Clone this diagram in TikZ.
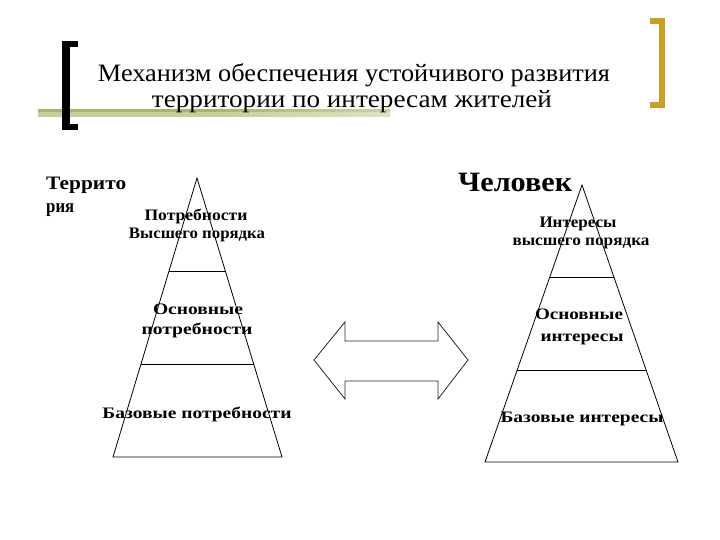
\documentclass[tikz,border=0pt]{standalone}
\usepackage{fontspec}
\setmainfont{Liberation Serif}
\usepackage{graphicx}
\usetikzlibrary{calc}
\definecolor{goldbr}{RGB}{201,160,36}
\definecolor{olivedark}{RGB}{165,182,110}
\definecolor{olivelight}{RGB}{196,208,152}
\pgfdeclarehorizontalshading{bartop}{100bp}{color(0bp)=(olivedark); color(50bp)=(olivedark); color(85bp)=(olivedark!45); color(100bp)=(white)}
\pgfdeclarehorizontalshading{barbot}{100bp}{color(0bp)=(olivelight); color(50bp)=(olivelight); color(85bp)=(olivelight!45); color(100bp)=(white)}
\newcommand\fitw[2]{\resizebox{#1}{\height}{#2}}
\tikzset{
  lbl/.style={anchor=base, inner sep=0pt, font=\fontsize{16}{19}\selectfont\bfseries},
  ttl/.style={anchor=base, inner sep=0pt, font=\fontsize{25}{28}\selectfont},
  pyr/.style={draw=black, line width=0.8pt, line join=miter},
  divline/.style={draw=black, line width=0.8pt},
  dblarrow/.style={draw=black!85, line width=0.8pt, line join=miter}
}
\begin{document}
\begin{tikzpicture}[x=1pt,y=-1pt]
\useasboundingbox (0,0) rectangle (720,540);
% header bar
\shade[shading=bartop] (38,110) rectangle (390,113);
\shade[shading=barbot] (38,113) rectangle (390,117);
% brackets
\fill[black] (62,41) rectangle (70,130);
\fill[black] (62,41) rectangle (78,47);
\fill[black] (62,124) rectangle (78,130);
\fill[goldbr] (659,18) rectangle (665,108);
\fill[goldbr] (650,18) rectangle (665,24);
\fill[goldbr] (650,102) rectangle (665,108);
% title
\node[ttl] (t1) at (354,82) {\fitw{512pt}{Механизм обеспечения устойчивого развития}};
\node[ttl] (t2) at (352,108) {\fitw{400pt}{территории по интересам жителей}};
% left pyramid
\coordinate (LA) at (197,178);
\coordinate (LL) at (113,457);
\coordinate (LR) at (282,457);
\draw[pyr] (LA) -- (LR) -- (LL) -- cycle;
\draw[divline] ($(LA)!0.333!(LL)$) -- ($(LA)!0.333!(LR)$);
\draw[divline] ($(LA)!0.667!(LL)$) -- ($(LA)!0.667!(LR)$);
% right pyramid
\coordinate (RA) at (582,185);
\coordinate (RL) at (485,462);
\coordinate (RR) at (678,462);
\draw[pyr] (RA) -- (RR) -- (RL) -- cycle;
\draw[divline] ($(RA)!0.332!(RL)$) -- ($(RA)!0.332!(RR)$);
\draw[divline] ($(RA)!0.668!(RL)$) -- ($(RA)!0.668!(RR)$);
% double arrow
\draw[dblarrow] (314,360) -- (345,322) -- (345,341) -- (438,341) -- (438,322)
  -- (468,360) -- (438,399) -- (438,381) -- (345,381) -- (345,399) -- cycle;
% side labels
\node[anchor=base west, inner sep=0pt, font=\fontsize{19}{22}\selectfont\bfseries] (terr1) at (46,190) {\fitw{80pt}{Террито}};
\node[anchor=base west, inner sep=0pt, font=\fontsize{19}{22}\selectfont\bfseries] (terr2) at (46,212) {\fitw{28pt}{рия}};
\node[anchor=base west, inner sep=0pt, font=\fontsize{28}{30}\selectfont\bfseries] (chel) at (458,192) {\fitw{114pt}{Человек}};
% left labels
\node[lbl] (lp1) at (196,221) {\fitw{103pt}{Потребности}};
\node[lbl] (lp2) at (197,238) {\fitw{136pt}{Высшего порядка}};
\node[lbl] (lo1) at (198,314) {\fitw{90pt}{Основные}};
\node[lbl] (lo2) at (197,334) {\fitw{111pt}{потребности}};
\node[lbl] (lb) at (197,418) {\fitw{189pt}{Базовые потребности}};
% right labels
\node[lbl] (ri1) at (578,227) {\fitw{77pt}{Интересы}};
\node[lbl] (ri2) at (581,245) {\fitw{137pt}{высшего порядка}};
\node[lbl] (ro1) at (579,319) {\fitw{88pt}{Основные}};
\node[lbl] (ro2) at (582,341) {\fitw{83pt}{интересы}};
\node[lbl] (rb) at (582,422) {\fitw{163pt}{Базовые интересы}};
\end{tikzpicture}
\end{document}
